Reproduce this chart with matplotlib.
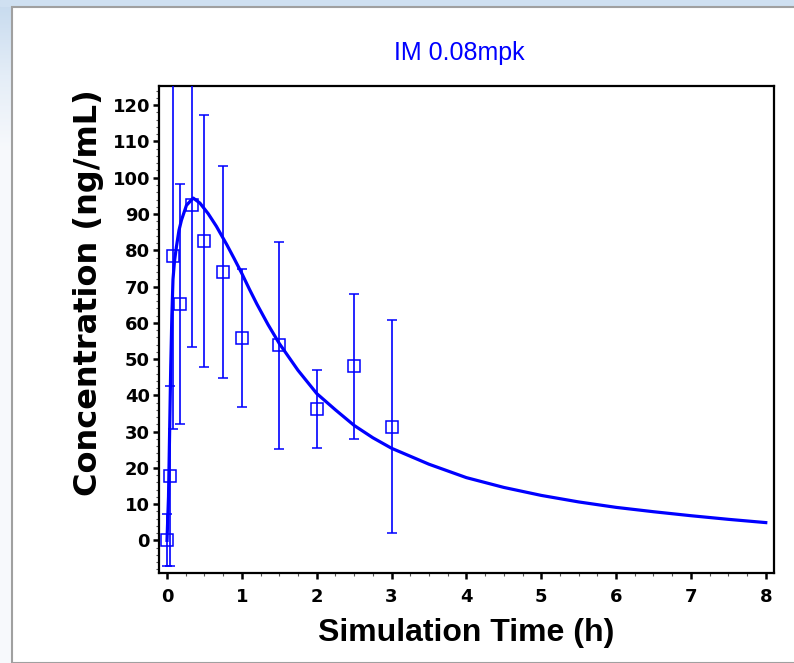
#!/usr/bin/env python3
"""
IM 0.08mpk - observed mean (+/- SD) and simulated concentration profile.
"""

import numpy as np
import matplotlib
matplotlib.use("Agg")
import matplotlib.pyplot as plt
from matplotlib.patches import Rectangle
from matplotlib.ticker import MultipleLocator

# --- Observed data (mean +/- SD)
obs_time = [0, 0.04, 0.083, 0.167, 0.333, 0.5, 0.75, 1, 1.5, 2, 2.5, 3]
obs_mean = [0, 17.7, 78.3, 65.1, 92.5, 82.5, 74.0, 55.8, 53.8, 36.3, 48.0, 31.4]
obs_sd = [7.2, 24.8, 47.7, 33.1, 39.3, 34.7, 29.2, 19.0, 28.6, 10.8, 20.0, 29.3]

# --- Simulated profile
sim_time = [0, 0.02, 0.035, 0.05, 0.065, 0.08, 0.1, 0.126, 0.16, 0.193,
            0.26, 0.35, 0.44, 0.55, 0.66, 0.8, 0.9, 1.0, 1.1, 1.2, 1.35,
            1.5, 1.75, 2.0, 2.25, 2.5, 2.75, 3.0, 3.5, 4.0, 4.5, 5.0, 5.5,
            6.0, 6.5, 7.0, 7.5, 8.0]
sim_conc = [0, 12, 30, 48, 62, 72, 77, 81, 85.5, 88.3,
            92.4, 94.4, 93.0, 90.1, 86.6, 81.5, 77.6, 73.6, 69.3, 65.2, 59.5,
            54.3, 46.9, 40.5, 36.0, 31.7, 28.3, 25.4, 21.0, 17.3, 14.6, 12.4, 10.6,
            9.1, 7.9, 6.8, 5.8, 4.9]

title = "IM 0.08mpk"
xlabel = "Simulation Time (h)"
ylabel = "Concentration (ng/mL)"

BLUE = "#0000ff"

plt.rcParams["font.family"] = ["Liberation Sans", "DejaVu Sans"]

fig = plt.figure(figsize=(7.94, 6.63), dpi=100)
fig.patch.set_facecolor("#f7f9fc")

# --- window background: gradient strip on the left, light blue strip on top
bg = fig.add_axes([0, 0, 1, 1], zorder=-5)
bg.set_axis_off()
grad = np.linspace(0, 1, 256).reshape(-1, 1)
cmap = matplotlib.colors.LinearSegmentedColormap.from_list(
    "win", ["#c6daee", "#e4edf7", "#f7f9fc"])
bg.imshow(grad, extent=[0, 1, 1 - 150 / 663, 1], aspect="auto",
          cmap=cmap, transform=bg.transAxes)
bg.set_xlim(0, 1)
bg.set_ylim(0, 1)
bg.add_patch(Rectangle((0, 1 - 6 / 663), 1, 6 / 663, color="#cfe0f1",
                       transform=bg.transAxes, zorder=1))
bg.add_patch(Rectangle((12 / 794, 0), 1, 1 - 7 / 663, facecolor="white",
                       edgecolor="#a0a0a0", linewidth=1.5,
                       transform=bg.transAxes, zorder=2))

ax = fig.add_axes([159 / 794, 1 - 573 / 663, 615 / 794, 487 / 663])
ax.set_facecolor("white")

ax.plot(sim_time, sim_conc, color=BLUE, linewidth=2.3, zorder=3)
ax.errorbar(obs_time, obs_mean, yerr=obs_sd, fmt="s", color=BLUE,
            markerfacecolor="none", markeredgecolor=BLUE, markersize=9,
            markeredgewidth=1.1, elinewidth=1.2, capsize=3.4,
            capthick=1.2, zorder=4)

ax.set_xlim(-0.107, 8.11)
ax.set_ylim(-9, 125.3)
ax.xaxis.set_major_locator(MultipleLocator(1))
ax.xaxis.set_minor_locator(MultipleLocator(0.25))
ax.yaxis.set_major_locator(MultipleLocator(10))
ax.yaxis.set_minor_locator(MultipleLocator(2))

for s in ax.spines.values():
    s.set_linewidth(1.6)
    s.set_color("black")

ax.tick_params(which="major", direction="out", length=4.5, width=1.8,
               labelsize=13, pad=2)
ax.tick_params(axis="x", which="major", pad=6)
ax.tick_params(which="minor", direction="out", length=2.5, width=0.8,
               color="#555555")
for lab in ax.get_xticklabels() + ax.get_yticklabels():
    lab.set_fontweight("bold")
    lab.set_family("DejaVu Sans")

ax.set_xlabel(xlabel, fontsize=23, fontweight="bold", labelpad=9)
ax.set_ylabel(ylabel, fontsize=23, fontweight="bold", labelpad=5,
              family="DejaVu Sans")
ax.yaxis.set_label_coords(-0.09, 0.575)
ax.set_title(title, fontsize=18, color=BLUE, pad=19, x=0.489)

fig.savefig("out.png", dpi=100)
